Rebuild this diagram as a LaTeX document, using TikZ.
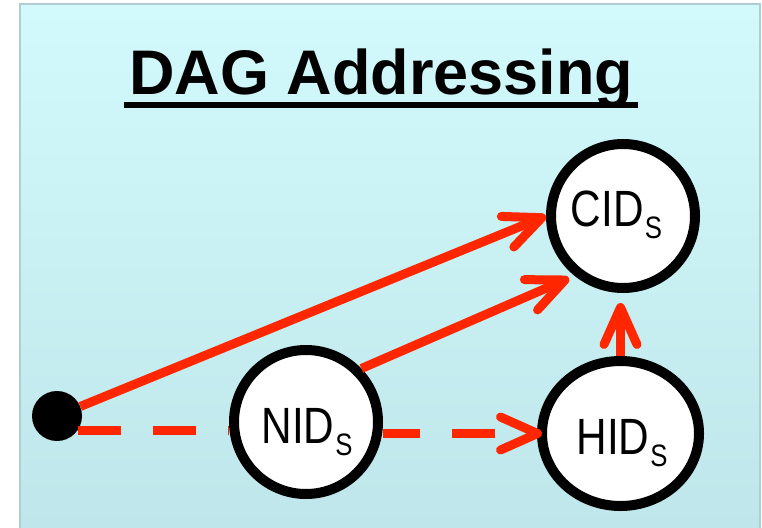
\documentclass[tikz,border=0pt]{standalone}
\usepackage{fontspec}
\setmainfont{Liberation Sans}
\newfontfamily\labelfont[FakeStretch=0.83]{Liberation Sans}
\usetikzlibrary{arrows.meta,shapes.geometric,calc}
\definecolor{linkred}{RGB}{255,38,0}
\definecolor{paneltop}{RGB}{210,250,252}
\definecolor{panelbottom}{RGB}{191,231,235}
\definecolor{panelrim}{RGB}{175,205,210}
% identifier with a lowered "S" subscript
\newcommand{\idlabel}[1]{{\labelfont\fontsize{51}{51}\selectfont #1\kern1pt\raisebox{-12pt}{\fontsize{31}{31}\selectfont S}}}

\begin{document}
\begin{tikzpicture}[x=1pt,y=-1pt,
  idnode/.style={circle,draw=black,fill=white,line width=10pt,minimum size=144pt,inner sep=0pt,outer sep=5pt},
  idtext/.style={anchor=base,inner sep=0pt},
  link/.style={draw=linkred,line width=9pt},
  barb/.style={-{Straight Barb[length=37pt,width=33pt,round]}},
  gapline/.style={dash pattern=on 43pt off 32pt}]
\useasboundingbox (0,0) rectangle (762,527);

% panel
\shade[top color=paneltop,bottom color=panelbottom] (20,4) rectangle (760,527);
\draw[panelrim,line width=1.5pt] (20,540) -- (20,4) -- (760,4) -- (760,540);

% title
\node[anchor=base,inner sep=0pt,font=\bfseries\fontsize{63}{63}\selectfont] (title) at (381.5,94) {DAG Addressing};
\fill ([xshift=-5pt,yshift=-8pt]title.base west) rectangle ([xshift=4pt,yshift=-14pt]title.base east);

% source point and identifier nodes
\node[circle,fill=black,minimum size=50pt,inner sep=0pt] (src) at (57,416) {};
\node[idnode] (nid) at (306,422) {};
\node[idnode] (cid) at (623,216) {};
\node[idnode,ellipse,minimum width=157pt,minimum height=145pt] (hid) at (620.5,433.5) {};

\node[idtext] (cidlabel) at (616.5,226) {\idlabel{CID}};
\node[idtext] (nidlabel) at (307,443) {\idlabel{NID}};
\node[idtext] (hidlabel) at (622,454) {\idlabel{HID}};

% primary edges
\draw[link,barb] (src) -- (cid.west);
\draw[link,barb,shorten >=6pt] (nid.44) -- (cid.231);
\draw[link,barb,shorten >=10pt] (hid.north) -- (hid.north |- cid.south);

% fallback edges
\draw[link,gapline] (src.-34) -- (nid.west |- src.-34);
\draw[link,gapline,dash phase=6pt,barb,shorten >=-5pt] (nid.east |- hid.west) -- (hid.west);
\end{tikzpicture}
\end{document}
